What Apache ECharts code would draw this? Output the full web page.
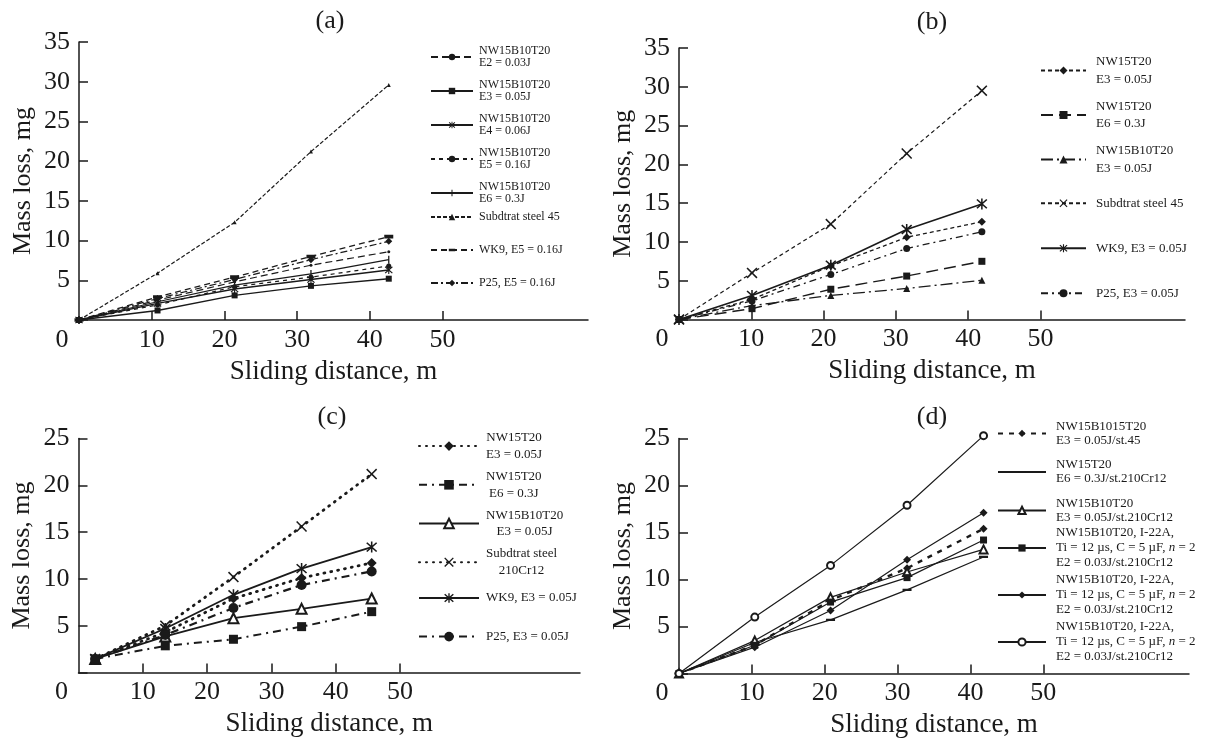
<!DOCTYPE html>
<html><head><meta charset="utf-8">
<script src="https://cdn.jsdelivr.net/npm/echarts@6/dist/echarts.min.js"></script>
<style>html,body{margin:0;padding:0;background:#fff}#c{width:1207px;height:741px}</style>
</head><body><div id="c"></div>
<script>
// ---------------- data ----------------
const xTickLabels = [0, 10, 20, 30, 40, 50];
const xTickMarks = [10, 20, 30, 40, 50];

// (a)
const xA = [0, 10.8, 21.4, 31.9, 42.6];
const aE2 = [0, 2.5, 4.8, 6.9, 8.6];
const aE3 = [0, 1.2, 3.1, 4.3, 5.2];
const aE4 = [0, 2.1, 3.9, 5.1, 6.3];
const aE5 = [0, 1.9, 4.2, 5.4, 6.8];
const aE6 = [0, 2.3, 4.4, 5.8, 7.6];
const aSteel45 = [0, 5.9, 12.3, 21.2, 29.6];
const aWK9 = [0, 2.9, 5.4, 8.0, 10.5];
const aP25 = [0, 2.7, 5.1, 7.6, 9.9];

// (b)
const xB = [0, 10.1, 21.0, 31.5, 41.9];
const bT20E3 = [0, 2.6, 6.9, 10.6, 12.6];
const bT20E6 = [0, 1.4, 3.9, 5.6, 7.5];
const bB10E3 = [0, 1.8, 3.1, 4.0, 5.05];
const bSteel45 = [0, 6.0, 12.3, 21.4, 29.5];
const bWK9 = [0, 3.1, 7.0, 11.6, 14.9];
const bP25 = [0, 2.4, 5.8, 9.15, 11.3];

// (c)
const xC = [2.6, 13.5, 24.1, 34.7, 45.6];
const cT20E3 = [1.45, 4.3, 7.9, 10.1, 11.7];
const cT20E6 = [1.45, 2.85, 3.55, 4.9, 6.5];
const cB10E3 = [1.45, 3.85, 5.8, 6.8, 7.9];
const cSteel = [1.45, 5.0, 10.2, 15.6, 21.2];
const cWK9 = [1.45, 4.7, 8.3, 11.1, 13.4];
const cP25 = [1.45, 4.0, 6.9, 9.35, 10.8];

// (d)
const xD = [0, 10.4, 20.8, 31.3, 41.8];
const dSt45 = [0, 3.0, 7.8, 11.2, 15.4];
const dT20E6 = [0, 3.3, 5.7, 8.9, 12.4];
const dB10E3 = [0, 3.5, 8.1, 10.8, 13.2];
const dI22Sq = [0, 3.0, 7.6, 10.2, 14.2];
const dI22Dia = [0, 2.8, 6.7, 12.1, 17.1];
const dI22Circ = [0, 6.0, 11.5, 17.9, 25.3];

// ---------------- style ----------------
const F = '"Liberation Serif", "Times New Roman", serif';
const K = '#1a1a1a';
const STAR = 'path://M4.3,0L5.7,0L5.7,10L4.3,10Z M0,1.5L1,0.5L10,8.5L9,9.5Z M0,8.5L9,0.5L10,1.5L1,9.5Z';
const XMARK = 'path://M0,1L1,0L5,4L9,0L10,1L6,5L10,9L9,10L5,6L1,10L0,9L4,5Z';
const VBAR = 'path://M4.2,0L5.8,0L5.8,10L4.2,10Z M0,5L0.01,5L0,5.01Z M10,5L9.99,5L10,5.01Z';
const HBAR = 'path://M0.5,3L9.5,3L9.5,7L0.5,7Z M5,0L5.01,0L5,0.01Z M5,10L5.01,10L5,9.99Z';
const HBAR2 = 'path://M1,3.8L9,3.8L9,6.2L1,6.2Z M5,0L5.01,0L5,0.01Z M5,10L5.01,10L5,9.99Z';

function ser(name, gi, xs, ys, symbol, size, type, width, cap) {
  const empty = String(symbol).indexOf('empty') === 0;
  return {
    type: 'line', name, xAxisIndex: gi, yAxisIndex: gi,
    data: xs.map((x, i) => [x, ys[i]]),
    symbol, symbolSize: size, showSymbol: true,
    lineStyle: { color: K, width, type, cap: cap || 'butt' },
    itemStyle: { color: K, borderColor: K, borderWidth: empty ? 1.3 : 0 },
    animation: false, clip: false, z: 3
  };
}

const I22 = 'NW15B10T20, I-22A,\nTi = 12 µs, C = 5 µF, n = 2\nE2 = 0.03J/st.210Cr12';

const series = [
  // (a)
  ser('NW15B10T20\nE2 = 0.03J', 0, xA, aE2, 'circle', 3, [7, 4], 1.2),
  ser('NW15B10T20\nE3 = 0.05J', 0, xA, aE3, 'rect', 6, 'solid', 1.4),
  ser('NW15B10T20\nE4 = 0.06J', 0, xA, aE4, STAR, 8, 'solid', 1.4),
  ser('NW15B10T20\nE5 = 0.16J', 0, xA, aE5, 'circle', 5, [4, 4], 1.2),
  ser('NW15B10T20\nE6 = 0.3J', 0, xA, aE6, VBAR, 8, 'solid', 1.2),
  ser('Subdtrat steel 45', 0, xA, aSteel45, 'triangle', 4, [4, 2], 1.2),
  ser('WK9, E5 = 0.16J', 0, xA, aWK9, HBAR, 9, [6, 4], 1.3),
  ser('P25, E5 = 0.16J', 0, xA, aP25, 'diamond', 7, [7, 3, 2, 3], 1.2),
  // (b)
  ser('NW15T20\nE3 = 0.05J ', 1, xB, bT20E3, 'diamond', 8, [4, 3], 1.3),
  ser('NW15T20\nE6 = 0.3J ', 1, xB, bT20E6, 'rect', 7, [12, 6], 1.4),
  ser('NW15B10T20\nE3 = 0.05J ', 1, xB, bB10E3, 'triangle', 7, [12, 4, 2, 4], 1.3),
  ser('Subdtrat steel 45 ', 1, xB, bSteel45, XMARK, 11, [4, 3], 1.2),
  ser('WK9, E3 = 0.05J ', 1, xB, bWK9, STAR, 11, 'solid', 1.6),
  ser('P25, E3 = 0.05J ', 1, xB, bP25, 'circle', 7, [7, 4, 2, 4], 1.3),
  // (c)
  ser('NW15T20\nE3 = 0.05J  ', 2, xC, cT20E3, 'diamond', 10, [1, 6], 2.8, 'round'),
  ser('NW15T20\nE6 = 0.3J  ', 2, xC, cT20E6, 'rect', 9, [8, 5, 2, 5], 2),
  ser('NW15B10T20\nE3 = 0.05J  ', 2, xC, cB10E3, 'emptyTriangle', 10, 'solid', 1.8),
  ser('Subdtrat steel\n210Cr12', 2, xC, cSteel, XMARK, 11, [1, 6], 2.8, 'round'),
  ser('WK9, E3 = 0.05J  ', 2, xC, cWK9, STAR, 11, 'solid', 1.8),
  ser('P25, E3 = 0.05J  ', 2, xC, cP25, 'circle', 10, [8, 5, 2, 5], 2.2),
  // (d)
  ser('NW15B1015T20\nE3 = 0.05J/st.45', 3, xD, dSt45, 'diamond', 8, [5, 6], 2.4),
  ser('NW15T20\nE6 = 0.3J/st.210Cr12', 3, xD, dT20E6, HBAR2, 9, 'solid', 1.2),
  ser('NW15B10T20\nE3 = 0.05J/st.210Cr12', 3, xD, dB10E3, 'emptyTriangle', 8, 'solid', 1.2),
  ser(I22, 3, xD, dI22Sq, 'rect', 7, 'solid', 1.2),
  ser(I22 + ' ', 3, xD, dI22Dia, 'diamond', 8, 'solid', 1.2),
  ser(I22 + '  ', 3, xD, dI22Circ, 'emptyCircle', 7, 'solid', 1.2)
];

const grids = [
  { left: 79, top: 42, width: 509, height: 278 },
  { left: 679, top: 48, width: 506, height: 271.5 },
  { left: 78.5, top: 438.5, width: 501.5, height: 234 },
  { left: 679, top: 438.5, width: 510, height: 235 }
];
const xMax = [70, 70, 78, 70];
const yMax = [35, 35, 25, 25];

function xAxis(gi) {
  return {
    type: 'value', gridIndex: gi, min: 0, max: xMax[gi], interval: 10,
    name: 'Sliding distance, m', nameLocation: 'middle', nameGap: 38,
    nameTextStyle: { fontFamily: F, fontSize: 27, color: K },
    axisLine: { show: true, onZero: false, lineStyle: { color: K, width: 1.5 } },
    axisTick: { show: true, inside: true, length: 9, customValues: xTickMarks, lineStyle: { color: K, width: 1.5 } },
    axisLabel: {
      customValues: xTickLabels, margin: 7, fontFamily: F, fontSize: 26, color: K,
      formatter: v => (v === 0 ? '{z|0}' : String(v)),
      rich: { z: { fontFamily: F, fontSize: 26, color: K, padding: [0, 34, 0, 0] } }
    },
    splitLine: { show: false }
  };
}
function yAxis(gi) {
  return {
    type: 'value', gridIndex: gi, min: 0, max: yMax[gi], interval: 5,
    name: 'Mass loss, mg', nameLocation: 'middle', nameGap: 43,
    nameTextStyle: { fontFamily: F, fontSize: 26, color: K },
    axisLine: { show: true, lineStyle: { color: K, width: 1.5 } },
    axisTick: { show: true, inside: true, length: 9, lineStyle: { color: K, width: 1.5 } },
    axisLabel: { margin: 9, fontFamily: F, fontSize: 26, color: K, formatter: v => (v === 0 ? '' : String(v)) },
    splitLine: { show: false }
  };
}

function leg(left, top, names, o) {
  return {
    orient: 'vertical', left, top, padding: 0, selectedMode: false,
    itemWidth: o.w, itemHeight: o.h, itemGap: o.gap, data: names,
    formatter: o.fmt || (n => n.replace(/\s+$/, '')),
    textStyle: {
      fontFamily: F, fontSize: o.fs, lineHeight: o.lh, color: K,
      padding: [0, 0, 0, o.pad], rich: o.rich || {}
    }
  };
}
const centerFmt = n => n.replace(/\s+$/, '').split('\n').map(l => '{c|' + l + '}').join('\n');
const italFmt = n => n.replace(/\s+$/, '').replace(/n = 2/g, '{i|n} = 2');
const s = series.map(x => x.name);

const legends = [
  leg(430, 45, s.slice(0, 5), { w: 42, h: 8, gap: 10, fs: 12, lh: 12, pad: 1 }),
  leg(430, 211, s.slice(5, 8), { w: 42, h: 8, gap: 21, fs: 12, lh: 12, pad: 1 }),
  leg(1040, 53, s.slice(8, 11), { w: 45, h: 10, gap: 9.5, fs: 13, lh: 17.5, pad: 5 }),
  leg(1040, 194.5, s.slice(11, 14), { w: 45, h: 10, gap: 27.5, fs: 13, lh: 17.5, pad: 5 }),
  leg(418, 429.5, [s[14], s[15], s[16], s[17]], { w: 60, h: 12, gap: 5.5, fs: 13, lh: 16.6, pad: 2,
    fmt: centerFmt, rich: { c: { align: 'center', fontFamily: F, fontSize: 13, lineHeight: 16.6, color: K } } }),
  leg(418, 589.7, [s[18], s[19]], { w: 60, h: 12, gap: 22, fs: 13, lh: 16.6, pad: 2 }),
  leg(997, 419.4, s.slice(20, 23), { w: 48, h: 9, gap: 10.5, fs: 13, lh: 14, pad: 5 }),
  leg(997, 525.5, s.slice(23, 26), { w: 48, h: 9, gap: 2, fs: 13, lh: 15, pad: 5, fmt: italFmt,
    rich: { i: { fontStyle: 'italic', fontFamily: F, fontSize: 13, lineHeight: 15, color: K } } })
];

function ttl(text, left, top) {
  return { text, left, top, textAlign: 'center', padding: 0,
    textStyle: { fontFamily: F, fontSize: 26, fontWeight: 'normal', color: K } };
}

const chart = echarts.init(document.getElementById('c'), null, { renderer: 'canvas' });
chart.setOption({
  animation: false,
  backgroundColor: '#fff',
  title: [ttl('(a)', 330, 8), ttl('(b)', 932, 9), ttl('(c)', 332, 404), ttl('(d)', 932, 404)],
  grid: grids,
  xAxis: [0, 1, 2, 3].map(xAxis),
  yAxis: [0, 1, 2, 3].map(yAxis),
  legend: legends,
  series
});
</script></body></html>
